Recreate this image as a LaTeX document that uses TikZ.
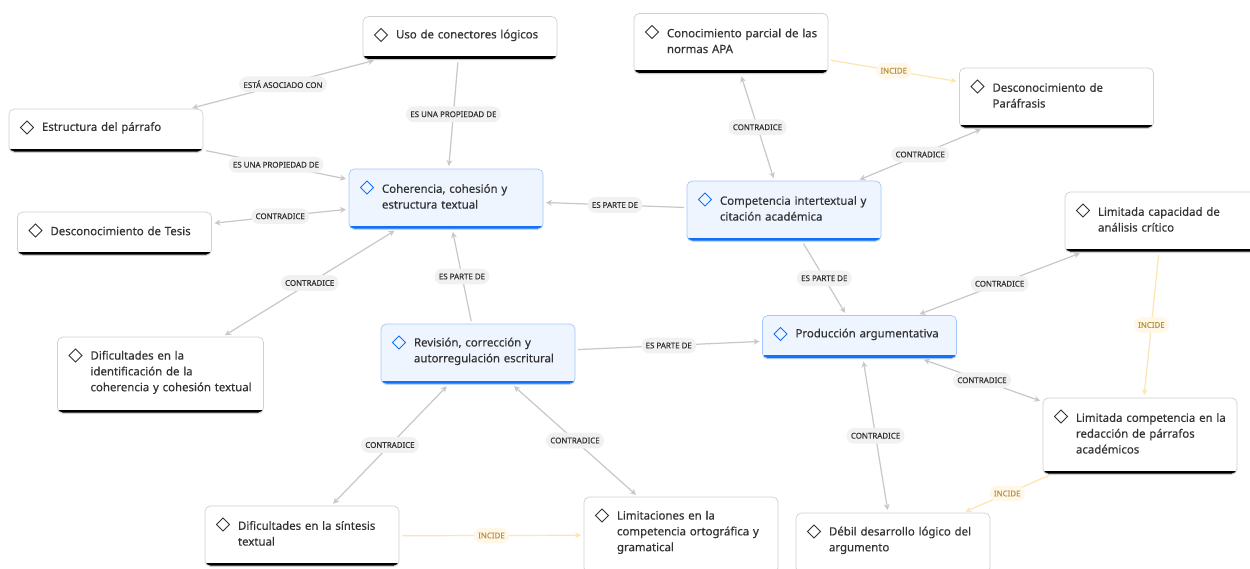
\documentclass[tikz,border=0pt]{standalone}
\usepackage{fontspec}
\setmainfont{Noto Sans}
\newfontfamily\mmfuente{Noto Sans}[FakeBold=0.35]
\usetikzlibrary{arrows.meta,positioning,calc,shadows}
\definecolor{mmtexto}{RGB}{51,51,51}
\definecolor{mmborde}{RGB}{208,208,208}
\definecolor{mmazul}{RGB}{20,112,245}
\definecolor{mmazulfondo}{RGB}{239,245,255}
\definecolor{mmazulborde}{RGB}{163,199,250}
\definecolor{mmlinea}{RGB}{200,200,200}
\definecolor{mmetiq}{RGB}{241,241,241}
\definecolor{mmamar}{RGB}{252,229,178}
\definecolor{mmamarfondo}{RGB}{255,248,233}
\definecolor{mmamartexto}{RGB}{185,145,60}
\tikzset{
  basebox/.style 2 args={
    rectangle, rounded corners=3pt,
    minimum width=3.88cm, text width=3.88cm, inner xsep=0pt,
    align=left, text=mmtexto,
    font=\mmfuente\fontsize{6.5}{9}\selectfont,
    execute at begin node={\leftskip=0.66cm\rightskip=-0.3cm plus 1fil},
    execute at end node={\par\kern3pt},
    drop shadow={opacity=0.12, shadow xshift=0pt, shadow yshift=-0.7pt},
    path picture={
      \fill[#1, sharp corners] ([yshift=-1pt]path picture bounding box.south west)
        rectangle ([yshift=1.8pt]path picture bounding box.south east);
      \draw[#2, line width=0.55pt, sharp corners]
        ($(path picture bounding box.north west)+(0.36,-0.37)$)
        +(0,0.13) -- +(0.13,0) -- +(0,-0.13) -- +(-0.13,0) -- cycle;
    }
  },
  conceptbox/.style={basebox={black}{mmtexto}, draw=mmborde, fill=white,
    minimum height=#1},
  conceptbox/.default=0.86cm,
  corebox/.style={basebox={mmazul}{mmazul}, draw=mmazulborde, fill=mmazulfondo,
    minimum height=#1},
  corebox/.default=1.2cm,
  linkline/.style={->, >={Stealth[length=3.4pt,width=3.4pt]}, line width=0.7pt,
    mmlinea, shorten >=1.5pt, shorten <=1.5pt},
  incideline/.style={linkline, mmamar},
  linklbl/.style={midway, fill=mmetiq, rounded corners=4.5pt, text=mmtexto,
    font=\mmfuente\fontsize{4.5}{5}\selectfont, inner xsep=2.5pt, inner ysep=1pt,
    minimum height=9pt},
  incidelbl/.style={linklbl, fill=mmamarfondo, text=mmamartexto}
}
\begin{document}
\begin{tikzpicture}
  \clip (0,0) rectangle (25,-11.36);

  % Conceptos centrales
  \node[corebox] (coh) at (8.92,-3.98) {Coherencia, cohesión y\\estructura textual};
  \node[corebox] (compet) at (15.68,-4.22) {Competencia intertextual y\\citación académica};
  \node[corebox] (rev) at (9.56,-7.08) {Revisión, corrección y\\autorregulación escritural};
  \node[corebox=0.86cm] (prod) at (17.19,-6.74) {Producción argumentativa};

  % Conceptos de la izquierda
  \node[conceptbox] (uso) at (9.20,-0.76) {Uso de conectores lógicos};
  \node[conceptbox] (estr) at (2.12,-2.61) {Estructura del párrafo};
  \node[conceptbox] (tesis) at (2.29,-4.67) {Desconocimiento de Tesis};
  \node[conceptbox=1.52cm, text width=4.12cm, minimum width=4.12cm] (difid) at (3.21,-7.50) {Dificultades en la\\identificación de la\\coherencia y cohesión textual};
  \node[conceptbox=1.2cm] (sint) at (6.04,-10.72) {Dificultades en la síntesis\\textual};
  \node[conceptbox=1.52cm] (limort) at (13.62,-10.70) {Limitaciones en la\\competencia ortográfica y\\gramatical};

  % Conceptos de la derecha
  \node[conceptbox=1.2cm] (apa) at (14.62,-0.87) {Conocimiento parcial de las\\normas APA};
  \node[conceptbox=1.2cm] (para) at (21.13,-1.96) {Desconocimiento de\\Paráfrasis};
  \node[conceptbox=1.2cm] (limcap) at (23.24,-4.44) {Limitada capacidad de\\análisis crítico};
  \node[conceptbox=1.52cm] (limred) at (22.80,-8.72) {Limitada competencia en la\\redacción de párrafos\\académicos};
  \node[conceptbox=1.2cm] (debil) at (17.86,-10.86) {Débil desarrollo lógico del\\argumento};

  % Relaciones
  \draw[linkline, <->] (estr) -- node[linklbl] {ESTÁ ASOCIADO CON} (uso);
  \draw[linkline] (uso) -- node[linklbl] {ES UNA PROPIEDAD DE} (coh);
  \draw[linkline] (estr) -- node[linklbl] {ES UNA PROPIEDAD DE} (coh);
  \draw[linkline, <->] (coh) -- node[linklbl] {CONTRADICE} (tesis);
  \draw[linkline, <->] (coh) -- node[linklbl] {CONTRADICE} (difid);
  \draw[linkline] (rev) -- node[linklbl] {ES PARTE DE} (coh);
  \draw[linkline] (compet) -- node[linklbl] {ES PARTE DE} (coh);
  \draw[linkline] (rev) -- node[linklbl] {ES PARTE DE} (prod);
  \draw[linkline] (compet) -- node[linklbl] {ES PARTE DE} (prod);
  \draw[linkline, <->] (compet) -- node[linklbl] {CONTRADICE} (apa);
  \draw[linkline, <->] (compet) -- node[linklbl] {CONTRADICE} (para);
  \draw[linkline, <->] (prod) -- node[linklbl] {CONTRADICE} (limcap);
  \draw[linkline, <->] (prod) -- node[linklbl] {CONTRADICE} (limred);
  \draw[linkline, <->] (prod) -- node[linklbl] {CONTRADICE} (debil);
  \draw[linkline, <->] (rev) -- node[linklbl] {CONTRADICE} (sint);
  \draw[linkline, <->] (rev) -- node[linklbl] {CONTRADICE} (limort);

  % Incidencias
  \draw[incideline] (apa) -- node[incidelbl] {INCIDE} (para);
  \draw[incideline] (limcap) -- node[incidelbl] {INCIDE} (limred);
  \draw[incideline] (limred) -- node[incidelbl] {INCIDE} (debil);
  \draw[incideline] (sint) -- node[incidelbl] {INCIDE} (limort);
\end{tikzpicture}
\end{document}
